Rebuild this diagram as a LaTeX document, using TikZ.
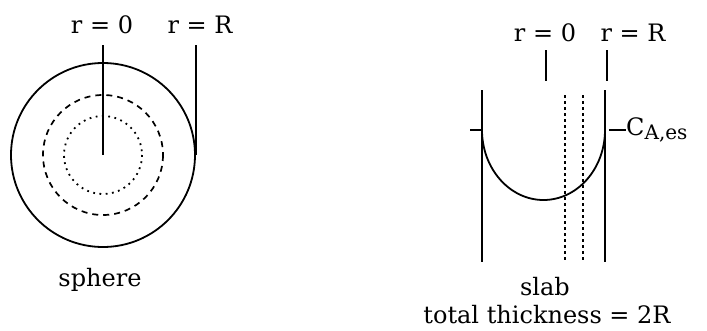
\documentclass[tikz,border=0pt]{standalone}
\usepackage{fontspec}
\setmainfont{DejaVu Serif}
\usetikzlibrary{positioning}

\begin{document}
\begin{tikzpicture}[
  x=1pt, y=-1pt,
  ln/.style={line width=1.8pt, black},
  dsh/.style={line width=1.7pt, dash pattern=on 6pt off 5pt},
  dt/.style={line width=1.8pt, dash pattern=on 1.8pt off 4.5pt},
  vdt/.style={line width=1.7pt, dash pattern=on 3pt off 3pt},
  lbl/.style={font=\fontsize{24}{28}\selectfont, inner sep=0pt}
]
  \useasboundingbox (0,0) rectangle (707,330);
  % sphere
  \coordinate (c) at (103,155);
  \node[circle, draw, ln, minimum size=184pt, inner sep=0pt] (sph) at (c) {};
  \draw[dsh] (c) circle[radius=60];
  \draw[dt] (c) circle[radius=39];
  \node[lbl] (sr0) at (102,25) {r = 0};
  \node[lbl] (srR) at (200,25) {r = R};
  \coordinate (st0) at (103,45);
  \coordinate (stR) at (196,45);
  \draw[ln] (st0) -- (c);
  \draw[ln] (stR) -- (stR |- sph.east);
  \node[lbl] (sname) at (100,280) {sphere};

  % slab
  \node[lbl] (lr0) at (545,33) {r = 0};
  \node[lbl] (lrR) at (633,33) {r = R};
  \coordinate (t0a) at (546,50);  \coordinate (t0b) at (546,81);
  \coordinate (tRa) at (607,50);  \coordinate (tRb) at (607,81);
  \draw[ln] (t0a) -- (t0b);
  \draw[ln] (tRa) -- (tRb);
  \coordinate (wla) at (482,90);  \coordinate (wlb) at (482,262);
  \coordinate (wra) at (605,90);  \coordinate (wrb) at (605,262);
  \draw[ln] (wla) -- (wlb);
  \draw[ln] (wra) -- (wrb);
  \coordinate (d1a) at (565,95);  \coordinate (d1b) at (565,260);
  \coordinate (d2a) at (583,95);  \coordinate (d2b) at (583,260);
  \draw[vdt] (d1a) -- (d1b);
  \draw[vdt] (d2a) -- (d2b);
  \coordinate (el) at (482,130);
  \coordinate (er) at (605,130);
  \coordinate (eb) at (543.5,200);
  \draw[ln] (el) .. controls (482,168.6) and (509.6,200) .. (eb)
                 .. controls (577.4,200) and (605,168.6) .. (er);
  \coordinate (tk) at (470,130);
  \draw[ln] (tk) -- (el);
  \node[lbl, anchor=west] (ca) at (626,130) {C\raisebox{-4pt}{\fontsize{20}{24}\selectfont A,es}};
  \coordinate (cd) at (609,130);
  \draw[ln] (cd) -- (ca.west);
  \node[lbl] (lname) at (545,287) {slab};
  \node[lbl] (lthk) at (547,315) {total thickness = 2R};
\end{tikzpicture}
\end{document}
